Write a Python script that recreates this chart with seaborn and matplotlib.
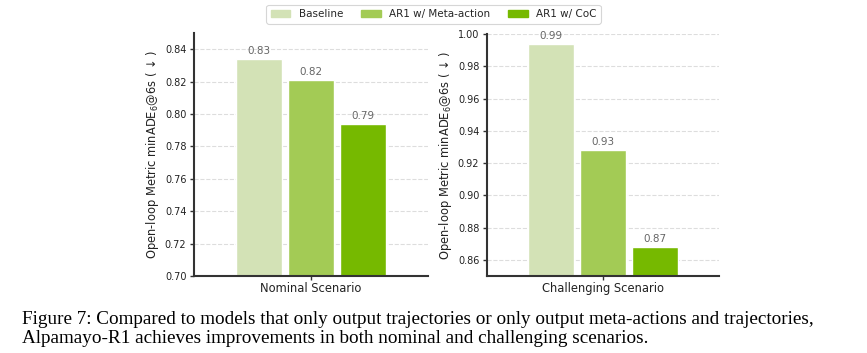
import seaborn as sns
import pandas as pd
import matplotlib.pyplot as plt

models = ['Baseline', 'AR1 w/ Meta-action', 'AR1 w/ CoC']
colors = ['#d3e2b6', '#a3cb55', '#76b900']
nominal = [0.834, 0.821, 0.794]
challenging = [0.994, 0.928, 0.868]
nominal_lbl = ['0.83', '0.82', '0.79']
challenging_lbl = ['0.99', '0.93', '0.87']
nominal_ticks = [0.70, 0.72, 0.74, 0.76, 0.78, 0.80, 0.82, 0.84]
challenging_ticks = [0.86, 0.88, 0.90, 0.92, 0.94, 0.96, 0.98, 1.00]

sns.set_theme(style='white')
plt.rcParams['font.family'] = ['DejaVu Sans']

fig = plt.figure(figsize=(8.67, 3.53), dpi=100)
ax1 = fig.add_axes([0.2238, 0.2181, 0.2699, 0.6884])
ax2 = fig.add_axes([0.5617, 0.2181, 0.2676, 0.6856])

panels = [
    (ax1, 'Nominal Scenario', nominal, nominal_lbl, (0.70, 0.85), nominal_ticks),
    (ax2, 'Challenging Scenario', challenging, challenging_lbl, (0.85, 1.00), challenging_ticks),
]

for ax, name, vals, lbls, ylim, ticks in panels:
    df = pd.DataFrame({'scenario': [name] * 3, 'model': models, 'value': vals})
    sns.barplot(data=df, x='scenario', y='value', hue='model', hue_order=models,
                palette=colors, width=0.667, gap=0.11, ax=ax, legend=False,
                saturation=1)
    for cont, l in zip(ax.containers, lbls):
        ax.bar_label(cont, labels=[l], padding=2, fontsize=7.5, color='#666666')
    ax.set_ylim(*ylim)
    ax.set_xlim(-0.5, 0.5)
    ax.set_yticks(ticks)
    ax.set_yticklabels([f'{t:.2f}' for t in ticks])
    ax.yaxis.grid(True, linestyle='--', color='#dddddd', linewidth=0.8)
    ax.set_axisbelow(True)
    ax.spines['top'].set_visible(False)
    ax.spines['right'].set_visible(False)
    for s in ['left', 'bottom']:
        ax.spines[s].set_color('#333333')
        ax.spines[s].set_linewidth(1.5)
    ax.tick_params(axis='both', which='both', direction='out', length=3, width=1,
                   colors='#333333', labelsize=7, labelcolor='#222222',
                   left=True, bottom=True, pad=2.5)
    ax.tick_params(axis='x', pad=1.5)
    ax.set_xlabel('')
    ax.set_xticks([0])
    ax.set_xticklabels([name], fontsize=8.3)
    ax.set_ylabel('Open-loop Metric minADE$_6$@6s ( \u2193 )', fontsize=8.3,
                  color='#222222', labelpad=3)

handles = [plt.Rectangle((0, 0), 1, 1, color=c) for c in colors]
leg = fig.legend(handles, models, loc='upper center', bbox_to_anchor=(0.5, 1.0),
                 ncol=3, fontsize=7.5, frameon=True, handleheight=0.6,
                 handlelength=1.9, columnspacing=1.7, borderpad=0.4)
leg.get_frame().set_edgecolor('#cccccc')
leg.get_frame().set_linewidth(0.8)

fig.text(0.025, 0.068,
         'Figure 7: Compared to models that only output trajectories or only output meta-actions and trajectories,\n'
         'Alpamayo-R1 achieves improvements in both nominal and challenging scenarios.',
         family='Liberation Serif', fontsize=13.8, ha='left', va='center',
         linespacing=1.2, color='black')

fig.savefig('out.png', dpi=100)
